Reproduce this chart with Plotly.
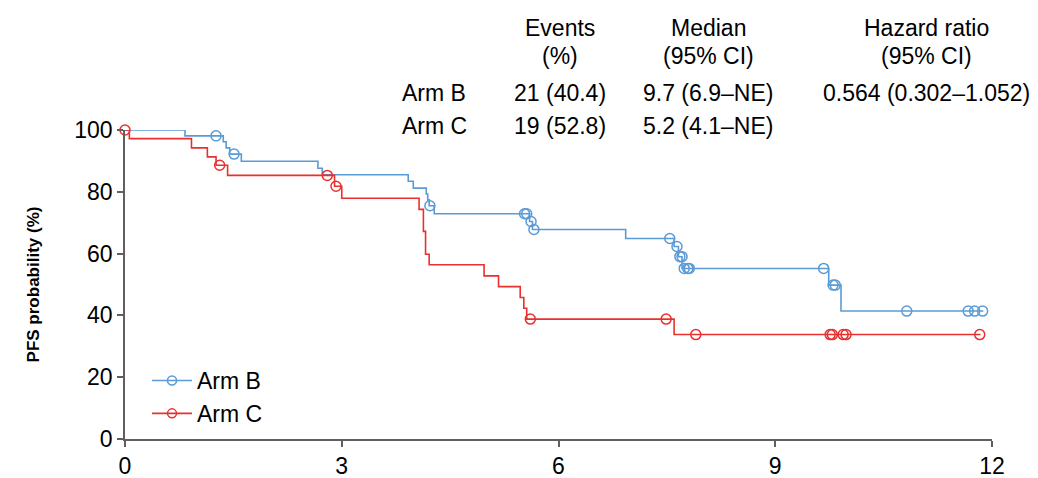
import plotly.graph_objects as go

# ---------------- data ----------------
# Arm B: step curve (time in months, PFS %), value after each drop
arm_b_time = [0, 0.83, 1.36, 1.40, 1.45, 1.61, 2.67, 2.73, 3.92, 3.99, 4.17, 4.19, 4.21,
              4.28, 5.60, 5.64, 6.93, 7.60, 7.66, 7.71, 9.74, 9.91, 11.88]
arm_b_surv = [100, 98.1, 96.2, 94.2, 92.2, 89.9, 87.6, 85.5, 83.4, 81.2, 79.3, 77.4, 75.5,
              72.9, 70.4, 67.8, 64.9, 62.3, 59.0, 55.2, 49.8, 41.4, 41.4]
arm_b_cens_time = [1.26, 1.51, 4.22, 5.53, 5.56, 5.62, 5.66, 7.54, 7.64, 7.68, 7.71,
                   7.74, 7.79, 7.81, 9.67, 9.80, 9.83, 10.82, 11.67, 11.76, 11.87]
arm_b_cens_surv = [98.1, 92.2, 75.5, 72.9, 72.9, 70.4, 67.8, 64.9, 62.3, 59.0, 59.0,
                   55.2, 55.2, 55.2, 55.2, 49.8, 49.8, 41.4, 41.4, 41.4, 41.4]

# Arm C
arm_c_time = [0, 0.06, 0.92, 1.14, 1.26, 1.42, 2.90, 3.00, 4.07, 4.13, 4.16, 4.21,
              4.97, 5.17, 5.47, 5.52, 5.56, 7.60, 11.84]
arm_c_surv = [100, 97.2, 94.2, 91.3, 88.6, 85.3, 81.8, 77.9, 74.3, 67.2, 59.8, 56.4,
              52.8, 49.3, 45.8, 42.3, 38.8, 33.8, 33.8]
arm_c_cens_time = [0, 1.31, 2.80, 2.92, 5.61, 7.49, 7.90, 9.76, 9.79, 9.94, 9.98, 11.83]
arm_c_cens_surv = [100, 88.6, 85.3, 81.8, 38.8, 38.8, 33.8, 33.8, 33.8, 33.8, 33.8, 33.8]

arm_names = ["Arm B", "Arm C"]
x_ticks = [0, 3, 6, 9, 12]
y_ticks = [0, 20, 40, 60, 80, 100]

table_header_1 = ["Events", "Median", "Hazard ratio"]
table_header_2 = ["(%)", "(95% CI)", "(95% CI)"]
table_row_b = ["21 (40.4)", "9.7 (6.9\u2013NE)", "0.564 (0.302\u20131.052)"]
table_row_c = ["19 (52.8)", "5.2 (4.1\u2013NE)", ""]

# ---------------- styling ----------------
BLUE = "#5B9BD5"
RED = "#E8312F"
FONT = "Liberation Sans, Arial, sans-serif"
FS = 23

fig = go.Figure()

for t, s, ct, cs, col in [
    (arm_b_time, arm_b_surv, arm_b_cens_time, arm_b_cens_surv, BLUE),
    (arm_c_time, arm_c_surv, arm_c_cens_time, arm_c_cens_surv, RED),
]:
    fig.add_trace(go.Scatter(x=t, y=s, mode="lines", line=dict(color=col, width=1.6, shape="hv"),
                             showlegend=False, cliponaxis=False, hoverinfo="skip"))
    fig.add_trace(go.Scatter(x=ct, y=cs, mode="markers",
                             marker=dict(symbol="circle-open", size=10, color=col, line=dict(width=1.5, color=col)),
                             showlegend=False, cliponaxis=False, hoverinfo="skip"))

# legend entries
for name, col in zip(arm_names, [BLUE, RED]):
    fig.add_trace(go.Scatter(x=[None], y=[None], mode="lines+markers", name=name,
                             line=dict(color=col, width=1.6),
                             marker=dict(symbol="circle-open", size=9, color=col, line=dict(width=1.5, color=col))))

axis_col = "#5f5f5f"
fig.update_xaxes(range=[0, 12], tickvals=x_ticks, ticktext=[str(v) for v in x_ticks],
                 showline=True, linecolor=axis_col, linewidth=1.5, ticks="outside", ticklen=6,
                 tickcolor=axis_col, tickwidth=1.5, showgrid=False, zeroline=False,
                 tickfont=dict(family=FONT, size=FS, color="black"))
fig.update_yaxes(range=[0, 100], tickvals=y_ticks, ticktext=[str(v) for v in y_ticks],
                 showline=True, linecolor=axis_col, linewidth=1.5, ticks="outside", ticklen=6,
                 tickcolor=axis_col, tickwidth=1.5, showgrid=False, zeroline=False,
                 tickfont=dict(family=FONT, size=FS, color="black"),
                 title=dict(text="<b>PFS probability (%)</b>", font=dict(family=FONT, size=17, color="black"),
                            standoff=30))

W, H = 1038, 478
L, T = 125, 130
pw, ph = 992 - 125, 439 - 130
R, B = W - L - pw, H - T - ph


def px_x(p):
    return (p - L) / pw


def px_y(p):
    return (T + ph - p) / ph


anns = []
col_centers = [560, 708, 926]
for i, c in enumerate(col_centers):
    anns.append(dict(text=table_header_1[i], x=px_x(c), y=px_y(28)))
    anns.append(dict(text=table_header_2[i], x=px_x(c), y=px_y(56)))
    anns.append(dict(text=table_row_b[i], x=px_x(c), y=px_y(93)))
    if table_row_c[i]:
        anns.append(dict(text=table_row_c[i], x=px_x(c), y=px_y(126)))
for a in anns:
    a.update(xref="paper", yref="paper", xanchor="center", yanchor="middle", showarrow=False,
             font=dict(family=FONT, size=FS, color="black"))
for name, yy in zip(arm_names, [93, 126]):
    anns.append(dict(text=name, x=px_x(400), y=px_y(yy), xref="paper", yref="paper",
                     xanchor="left", yanchor="middle", showarrow=False,
                     font=dict(family=FONT, size=FS, color="black")))

fig.update_layout(
    width=W, height=H,
    margin=dict(l=L, r=R, t=T, b=B, autoexpand=False),
    plot_bgcolor="white", paper_bgcolor="white",
    font=dict(family=FONT, size=FS, color="black"),
    annotations=anns,
    legend=dict(x=px_x(147), y=px_y(359), xanchor="left", yanchor="top",
                bgcolor="rgba(0,0,0,0)", itemwidth=40, tracegroupgap=0,
                font=dict(family=FONT, size=FS, color="black")),
)

fig.write_html("out.html", config={"displayModeBar": False},
               post_script="document.body.style.margin='0';document.body.style.overflow='hidden';")
